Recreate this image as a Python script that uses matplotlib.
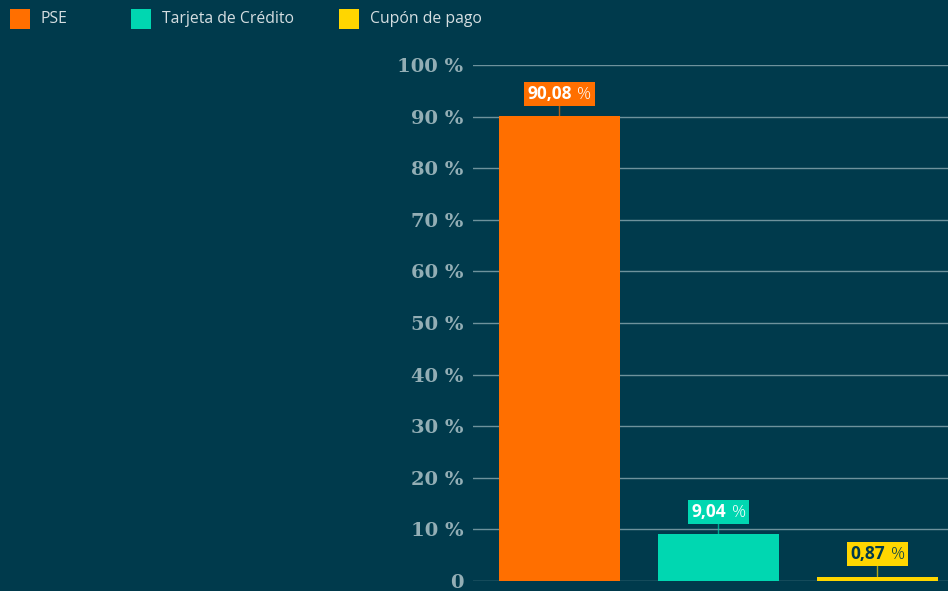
import matplotlib
matplotlib.use("Agg")
import matplotlib.pyplot as plt
from matplotlib.offsetbox import TextArea, HPacker, AnnotationBbox
from matplotlib.patches import Rectangle

# medios de pago
categorias = ["PSE", "Tarjeta de Crédito", "Cupón de pago"]
valores = [90.08, 9.04, 0.87]
etiquetas = ["90,08", "9,04", "0,87"]
colores = ["#FF6F00", "#00D7B1", "#FFD600"]
colores_texto = ["#FFFFFF", "#FFFFFF", "#003A4C"]
ticks_y = [0, 10, 20, 30, 40, 50, 60, 70, 80, 90, 100]
ticks_txt = ["0"] + [f"{t} %" for t in ticks_y[1:]]

fondo = "#003A4C"
rejilla = "#6E929C"
gris = "#93AEB5"

fig = plt.figure(figsize=(9.48, 5.91), dpi=100, facecolor=fondo)
ax = fig.add_axes([473 / 948, 10 / 591, 475 / 948, 516 / 591])
ax.set_facecolor(fondo)

x = list(range(len(valores)))
ax.bar(x, valores, width=121 / 159, color=colores, zorder=3, clip_on=False)

ax.set_ylim(0, 100)
ax.set_xlim(-86.5 / 159, 2 + 70.5 / 159)
ax.set_yticks(ticks_y)
ax.set_yticklabels(ticks_txt, fontfamily="DejaVu Serif", fontsize=14,
                   fontweight="bold", color=gris)
ax.tick_params(axis="y", length=0, pad=7)
ax.set_xticks([])
ax.grid(axis="y", color=rejilla, linewidth=1, zorder=1)
for s in ax.spines.values():
    s.set_visible(False)

# etiquetas de valor con caja y linea guia
for xi, v, txt, c, tc in zip(x, valores, etiquetas, colores, colores_texto):
    num = TextArea(txt, textprops=dict(color=tc, fontsize=12.5, fontweight="bold",
                                       fontfamily="Open Sans"))
    pct = TextArea("%", textprops=dict(color=tc, fontsize=12.5, fontweight="light",
                                       fontfamily="Open Sans"))
    caja = HPacker(children=[num, pct], align="baseline", pad=0, sep=4)
    ab = AnnotationBbox(caja, (xi, v), xybox=(0, 9.5), xycoords="data",
                        boxcoords="offset points", box_alignment=(0.5, 0),
                        frameon=True, pad=0.22,
                        bboxprops=dict(facecolor=c, edgecolor="none",
                                       boxstyle="square,pad=0.22"),
                        arrowprops=dict(arrowstyle="-", color=c, lw=1,
                                        shrinkA=0, shrinkB=0, alpha=0.7),
                        zorder=4)
    ax.add_artist(ab)

# leyenda superior
ley_x = [10, 131, 339]
for lx, cat, c in zip(ley_x, categorias, colores):
    fig.patches.append(Rectangle((lx / 948, 1 - 29 / 591), 20 / 948, 20 / 591,
                                 transform=fig.transFigure, facecolor=c,
                                 edgecolor="none"))
    fig.text((lx + 31) / 948, 1 - 19 / 591, cat, color="#D5DEE1", fontsize=11.3,
             fontfamily="Open Sans", va="center", ha="left")

fig.savefig("out.png", dpi=100, facecolor=fondo)
